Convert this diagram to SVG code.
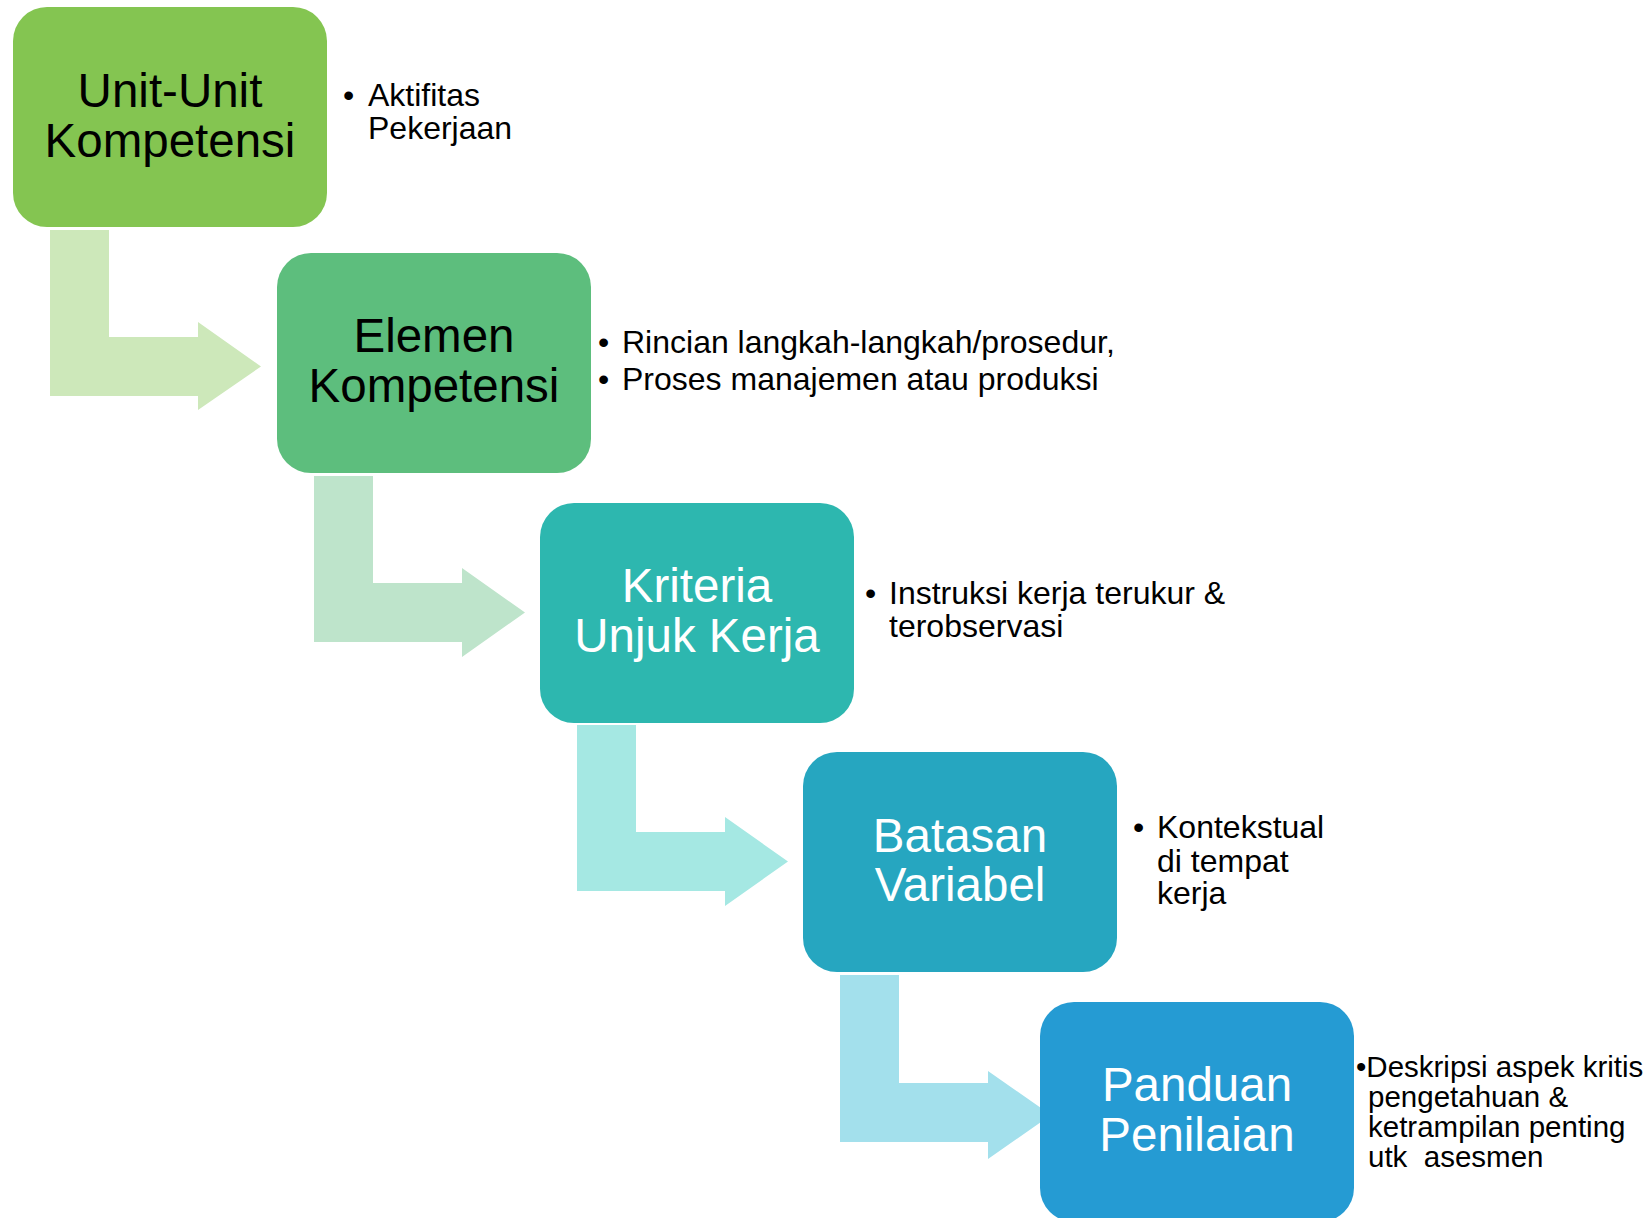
<svg xmlns="http://www.w3.org/2000/svg" width="1651" height="1218" viewBox="0 0 1651 1218">
<style>
.box{stroke:none}
.t{font-family:"Liberation Sans",Arial,sans-serif;font-size:47.5px;text-anchor:middle}
.dk{fill:#000}
.wt{fill:#fff}
.s{font-family:"Liberation Sans",Arial,sans-serif;font-size:32px;fill:#000}
.s5{font-family:"Liberation Sans",Arial,sans-serif;font-size:29.5px;fill:#000}
</style>
<rect width="1651" height="1218" fill="#fff"/>
<g id="connectors">
<path d="M50 230 H109 V337 H198 V322 L261 366.5 L198 410 V396 H50 Z" fill="#CDE8BA"/>
<path d="M314 476 H373 V583 H462 V568 L525 612.5 L462 657 V642 H314 Z" fill="#BEE4CB"/>
<path d="M577 725 H636 V832 H725 V817 L788 861.5 L725 906 V891 H577 Z" fill="#A5E8E3"/>
<path d="M840 975 H899 V1083 H988 V1071 L1051 1115 L988 1159 V1142 H840 Z" fill="#A3E0EC"/>
</g>
<g id="node1">
<rect class="box" x="13" y="7" width="314" height="220" rx="34" fill="#84C551"/>
<text class="t dk" x="170" y="107">Unit-Unit</text>
<text class="t dk" x="170" y="157">Kompetensi</text>
</g>
<g id="note1">
<text class="s" x="343" y="106">•<tspan x="368">Aktifitas</tspan></text>
<text class="s" x="368" y="139">Pekerjaan</text>
</g>
<g id="node2">
<rect class="box" x="277" y="253" width="314" height="220" rx="34" fill="#5DBE7D"/>
<text class="t dk" x="434" y="352">Elemen</text>
<text class="t dk" x="434" y="402">Kompetensi</text>
</g>
<g id="note2">
<text class="s" x="598" y="353">•<tspan x="622">Rincian langkah-langkah/prosedur,</tspan></text>
<text class="s" x="598" y="390">•<tspan x="622">Proses manajemen atau produksi</tspan></text>
</g>
<g id="node3">
<rect class="box" x="540" y="503" width="314" height="220" rx="34" fill="#2DB7AF"/>
<text class="t wt" x="697" y="602">Kriteria</text>
<text class="t wt" x="697" y="652">Unjuk Kerja</text>
</g>
<g id="note3">
<text class="s" x="865" y="604">•<tspan x="889">Instruksi kerja terukur &amp;</tspan></text>
<text class="s" x="889" y="637">terobservasi</text>
</g>
<g id="node4">
<rect class="box" x="803" y="752" width="314" height="220" rx="34" fill="#26A6C0"/>
<text class="t wt" x="960" y="852">Batasan</text>
<text class="t wt" x="960" y="901">Variabel</text>
</g>
<g id="note4">
<text class="s" x="1133" y="838">•<tspan x="1157">Kontekstual</tspan></text>
<text class="s" x="1157" y="872">di tempat</text>
<text class="s" x="1157" y="904">kerja</text>
</g>
<g id="node5">
<rect class="box" x="1040" y="1002" width="314" height="220" rx="34" fill="#259BD3"/>
<text class="t wt" x="1197" y="1101">Panduan</text>
<text class="t wt" x="1197" y="1151">Penilaian</text>
</g>
<g id="note5">
<text class="s5" x="1356" y="1077">•Deskripsi aspek kritis</text>
<text class="s5" x="1368" y="1107">pengetahuan &amp;</text>
<text class="s5" x="1368" y="1137">ketrampilan penting</text>
<text class="s5" x="1368" y="1167" xml:space="preserve">utk  asesmen</text>
</g>
</svg>
